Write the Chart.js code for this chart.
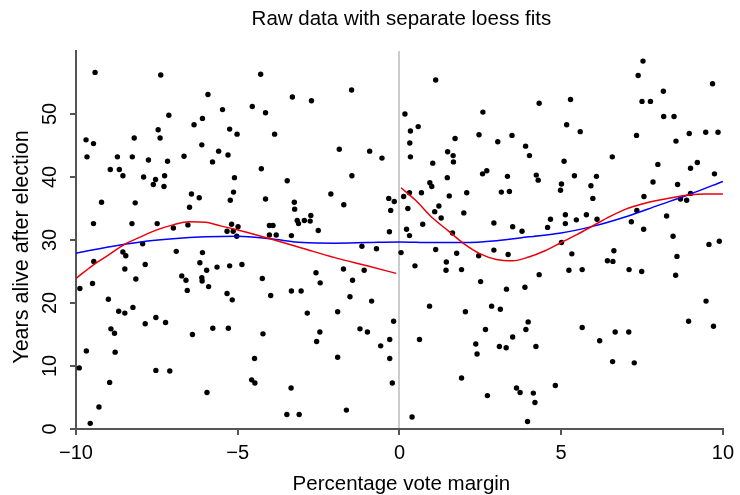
<!DOCTYPE html>
<html><head><meta charset="utf-8">
<script src="https://cdn.jsdelivr.net/npm/chart.js@4/dist/chart.umd.min.js"></script>
<style>html,body{margin:0;padding:0;background:#fff}canvas{display:block}</style>
</head><body>
<canvas id="c" width="740" height="495"></canvas>
<script>
const titleText = "Raw data with separate loess fits";
const xTitle = "Percentage vote margin";
const yTitle = "Years alive after election";
const xTicks = [-10, -5, 0, 5, 10];
const yTicks = [0, 10, 20, 30, 40, 50];

const ptsX = [
-9.41,-7.38,-5.92,-5.47,-7.13,-6.09,-6.35,-7.46,-5.25,-5.02,-7.40,-8.20,-9.69,-9.46,-6.11,-5.59,-5.30,-9.66,-8.72,-8.26,-6.66,-7.76,-7.17,-5.78,-8.94,-8.66,-8.55,-7.91,-7.54,-7.26,-7.61,-7.28,-5.10,-5.13,-6.43,-6.19,-5.23,-9.21,-8.17,-6.49,-9.46,-8.27,-7.49,-6.54,-6.99,-5.19,-4.99,-5.33,-5.14,-5.03,-7.94,
-4.29,-1.48,-3.31,-2.72,-4.55,-4.14,-3.86,-1.86,-0.92,-0.54,-4.27,-1.47,-3.47,-2.12,-4.14,-3.25,-1.72,-0.33,-0.16,-3.24,-0.27,-2.74,-3.16,-3.12,-2.94,-2.76,-4.02,-3.91,-4.02,-3.81,-3.34,-2.51,-0.31,-1.16,
-8.55,-8.46,-9.45,-8.49,-7.86,-6.90,-6.09,-6.17,-5.64,-5.25,-5.96,-6.73,-6.60,-6.11,-6.10,-8.15,-9.49,-9.88,-6.56,-5.90,-5.33,-5.17,-9.00,-8.68,-8.49,-8.24,-7.53,-7.86,-7.23,-8.92,-8.81,-5.77,-5.29,-6.40,-9.68,-8.79,-9.90,-7.53,-7.10,-8.96,-5.95,-9.29,-9.56,
-0.71,-4.87,-2.58,-1.73,-1.09,-4.24,-2.45,-1.45,-3.98,-3.34,-3.04,-1.53,-0.86,-2.85,-1.91,-0.18,-4.22,-2.46,-2.56,-1.22,-0.99,-0.30,-0.58,-0.30,-4.48,-1.91,-4.57,-4.47,-3.35,-0.22,-3.48,-3.10,-1.64,
1.12,4.32,0.17,2.58,0.34,0.58,0.32,0.34,1.72,2.46,3.48,3.04,3.90,4.02,1.49,1.66,1.67,1.03,2.57,2.70,1.48,3.34,4.23,4.29,0.94,1.00,0.31,0.68,0.13,2.08,3.15,3.40,1.54,0.26,1.22,1.09,1.29,1.99,0.72,0.22,0.31,1.64,2.92,3.50,3.79,4.58,4.67,4.98,5.01,
7.53,7.38,9.68,8.16,5.29,7.50,7.76,8.17,8.49,5.17,5.59,9.47,9.85,8.96,7.33,8.55,6.58,5.09,7.99,9.21,9.00,9.74,5.41,6.09,5.92,7.84,8.60,5.98,7.56,8.69,8.88,9.00,7.34,5.13,5.13,5.47,5.78,6.11,7.17,8.26,7.55,8.46,5.01,9.57,9.89,
0.05,1.12,1.77,2.45,2.92,3.36,0.48,1.45,1.44,1.92,4.32,2.51,3.31,3.88,0.93,2.04,2.85,3.12,3.98,3.91,2.66,0.62,2.36,3.50,3.09,3.30,4.22,2.40,1.92,3.62,3.73,4.14,4.19,4.82,2.72,0.39,3.96,
5.33,6.63,6.43,6.60,5.24,5.65,7.10,7.49,8.58,8.54,9.48,8.94,9.71,5.65,6.67,7.09,6.19,6.59,7.26
];
const ptsY = [
56.6,56.2,53.1,50.7,49.8,49.3,48.3,47.5,47.6,46.8,46.2,46.2,45.9,45.3,45.1,44.1,43.5,43.2,43.2,43.2,43.3,42.7,42.5,42.4,41.2,41.2,40.2,40.0,39.6,40.2,38.8,38.5,39.9,37.6,37.3,36.7,36.3,36.0,35.9,35.2,32.6,32.6,32.6,32.4,31.9,32.5,32.1,31.4,31.4,30.6,29.4,
56.3,53.8,52.7,52.1,51.2,50.2,46.8,44.4,44.1,43.0,41.3,40.2,39.4,37.3,36.5,36.0,35.6,36.6,36.1,34.9,34.7,33.9,33.1,32.6,33.1,33.0,32.3,32.3,30.8,30.8,30.7,31.5,31.3,29.0,
28.1,27.5,26.6,25.4,26.1,28.2,28.0,26.4,25.7,25.9,25.2,24.3,23.6,24.0,23.5,23.8,23.1,22.3,22.0,22.6,21.5,20.5,20.6,18.7,18.4,19.3,17.7,16.7,16.9,15.9,15.2,16.0,16.0,15.0,12.4,12.2,9.7,9.3,9.2,7.4,5.8,3.5,0.9,
28.6,26.1,24.8,25.4,25.2,23.9,23.2,23.6,21.2,21.9,21.9,21.0,20.3,18.4,18.6,17.1,15.1,15.4,13.9,15.9,15.4,14.2,13.2,11.2,11.2,11.4,7.8,7.3,6.5,7.3,2.3,2.3,3.0,
55.4,51.7,50.0,50.3,47.3,48.0,45.4,43.2,46.1,46.7,46.6,45.6,44.9,43.4,44.0,43.4,42.4,42.2,40.5,41.0,39.9,40.1,40.3,39.5,39.1,38.5,37.5,37.5,36.9,37.5,37.6,37.7,37.0,35.0,35.4,34.5,33.5,34.3,32.5,31.7,30.7,31.1,32.7,32.1,31.4,32.0,33.3,37.9,38.9,
58.4,56.1,54.8,53.6,52.3,52.0,52.0,49.6,49.6,48.3,47.2,47.1,47.1,46.9,46.6,45.7,43.2,42.5,42.0,42.3,41.4,40.5,40.2,40.1,38.6,39.2,38.8,36.6,36.9,36.5,36.3,37.4,34.7,34.0,32.6,33.2,34.0,33.3,32.9,33.8,31.7,30.6,29.6,29.3,29.8,
28.0,28.5,27.9,27.5,28.4,27.7,25.9,26.5,25.2,25.3,24.5,23.4,22.2,22.5,19.5,18.6,19.5,19.0,17.0,15.8,15.8,14.2,13.5,14.6,13.1,12.9,13.1,11.9,8.1,6.5,5.8,5.7,4.2,6.9,5.3,1.9,1.2,
27.8,28.3,26.7,26.6,25.2,25.3,25.3,25.0,27.4,24.4,20.3,17.1,16.3,16.1,15.4,15.4,14.0,10.7,10.5
];

const blueX = [-10,-9,-8,-7,-6,-5,-4,-3,-2,-1,0,1,2,3,4,5,6,7,8,9,10];
const blueY = [27.9,28.9,29.7,30.2,30.5,30.6,30.2,29.6,29.5,29.6,29.7,29.6,29.6,29.9,30.5,31.1,32.2,33.7,35.5,37.3,39.3];

const redLeftX = [-10,-9.5,-9,-8.5,-8,-7.5,-7,-6.5,-6,-5.5,-5,-4,-3,-2,-1,-0.1];
const redLeftY = [23.9,25.9,27.6,29.3,30.5,31.6,32.4,32.9,32.8,32.2,31.6,30.2,28.7,27.2,25.9,24.7];

const redRightX = [0.05,0.5,1,1.5,2,2.5,3,3.5,4,4.5,5,5.5,6,6.5,7,7.5,8,8.5,9,9.5,10];
const redRightY = [38.3,36.3,33.6,31.5,29.4,27.8,26.9,26.7,27.3,28.3,29.6,30.9,32.3,33.7,34.9,35.7,36.3,36.8,37.2,37.3,37.3];

const FONT = "'Liberation Sans', Arial, Helvetica, sans-serif";
const zip = (xs, ys) => xs.map((x, i) => ({x: x, y: ys[i]}));
const fmt = v => v < 0 ? '\u2212' + Math.abs(v) : String(v);

const textPlugin = {
  id: 'textPlugin',
  afterDraw(chart) {
    const ctx = chart.ctx, a = chart.chartArea;
    const cx = (a.left + a.right) / 2;
    ctx.save();
    ctx.fillStyle = '#000';
    ctx.textAlign = 'center';
    ctx.textBaseline = 'alphabetic';
    ctx.font = '20.5px ' + FONT;
    ctx.fillText(titleText, cx + 2, 25);
    ctx.textBaseline = 'middle';
    ctx.fillText(xTitle, cx + 2, 484);
    ctx.translate(22, 247);
    ctx.rotate(-Math.PI / 2);
    ctx.font = '21.5px ' + FONT;
    ctx.fillText(yTitle, 0, 0);
    ctx.restore();
  }
};

Chart.defaults.font.family = FONT;
new Chart(document.getElementById('c'), {
  type: 'scatter',
  data: {
    datasets: [
      {data: zip(redLeftX, redLeftY), showLine: true, borderColor: '#e8000b', borderWidth: 1.5, pointRadius: 0, cubicInterpolationMode: 'monotone', fill: false},
      {data: zip(redRightX, redRightY), showLine: true, borderColor: '#e8000b', borderWidth: 1.5, pointRadius: 0, cubicInterpolationMode: 'monotone', fill: false},
      {data: zip(blueX, blueY), showLine: true, borderColor: '#0000ff', borderWidth: 1.5, pointRadius: 0, cubicInterpolationMode: 'monotone', fill: false},
      {data: zip(ptsX, ptsY), showLine: false, backgroundColor: '#000', borderWidth: 0, pointRadius: 2.7}
    ]
  },
  options: {
    responsive: false,
    animation: false,
    devicePixelRatio: 1,
    layout: {padding: {top: 51, right: 14, bottom: 0, left: 0}},
    plugins: {legend: {display: false}, tooltip: {enabled: false}, title: {display: false}},
    scales: {
      x: {
        type: 'linear', min: -10, max: 10, position: 'bottom',
        afterBuildTicks: s => { s.ticks = xTicks.map(v => ({value: v})); },
        afterFit: s => { s.height = 66; },
        ticks: {callback: v => fmt(v), color: '#000', font: {size: 20}, padding: 6, maxRotation: 0},
        grid: {display: true, drawOnChartArea: true, drawTicks: true, tickLength: 6,
               color: c => (c.tick && c.tick.value === 0) ? '#cccccc' : 'rgba(0,0,0,0)',
               lineWidth: 2, tickColor: '#555', tickWidth: 2},
        border: {display: true, color: '#555', width: 2}
      },
      y: {
        type: 'linear', min: 0, max: 60, position: 'left',
        afterBuildTicks: s => { s.ticks = yTicks.map(v => ({value: v})); },
        afterFit: s => { s.width = 76; },
        ticks: {color: '#000', font: {size: 20}, padding: 8, minRotation: 90, maxRotation: 90, crossAlign: 'center'},
        grid: {display: true, drawOnChartArea: false, drawTicks: true, tickLength: 6, color: '#555', lineWidth: 2, tickColor: '#555', tickWidth: 2},
        border: {display: true, color: '#555', width: 2}
      }
    }
  },
  plugins: [textPlugin]
});
</script>
</body></html>
